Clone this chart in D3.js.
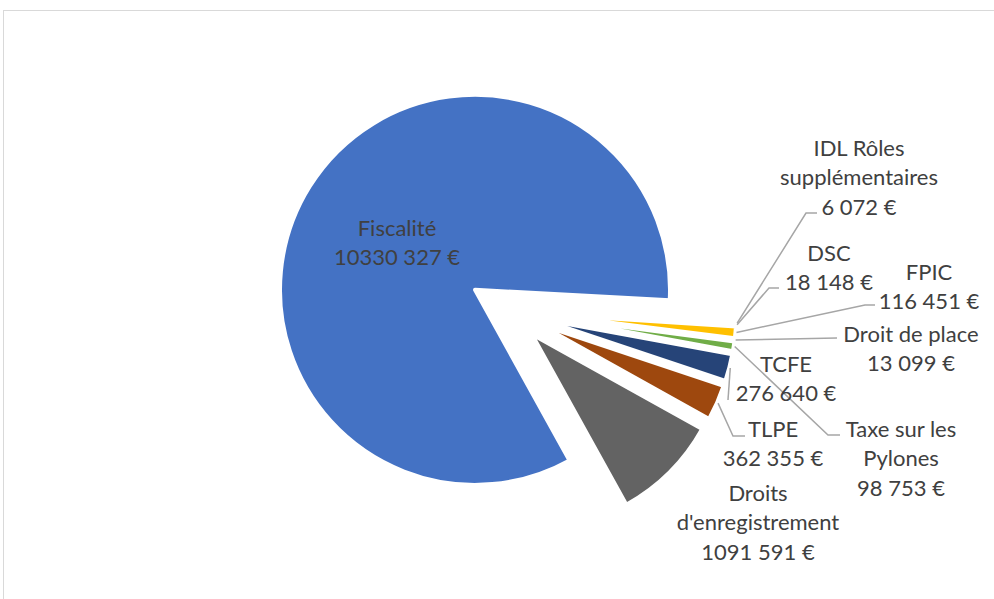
<!DOCTYPE html>
<html>
<head>
<meta charset="utf-8">
<script src="https://cdn.jsdelivr.net/npm/d3@7"></script>
<style>
  html, body { margin: 0; padding: 0; background: #fff; }
  svg { display: block; }
  .lbl { font-family: Lato, "Open Sans", sans-serif; font-size: 22px; fill: #404040; }
  .leader { fill: none; stroke: #A6A6A6; stroke-width: 1.5; }
</style>
</head>
<body>
<svg id="chart" width="994" height="599"></svg>
<script>
// --- Data ------------------------------------------------------------
const categories = [
  "Fiscalité",
  "IDL Rôles\nsupplémentaires",
  "DSC",
  "FPIC",
  "Droit de place",
  "Taxe sur les\nPylones",
  "TCFE",
  "TLPE",
  "Droits\nd'enregistrement",
];
const values = [10330327, 6072, 18148, 116451, 13099, 98753, 276640, 362355, 1091591];
const colors = ["#4472C4", "#ED7D31", "#A5A5A5", "#FFC000", "#5B9BD5", "#70AD47", "#264478", "#9E480E", "#636363"];

// --- Layout ----------------------------------------------------------
const W = 994, H = 599;
const cx = 508.5, cy = 310.8, R = 195;
const startDeg = 151;
const explode = [39.5, 33, 33, 33, 33, 33, 33, 33, 33];
// label centre (first line) and leader bend points, as placed in the original
const labelAt = [
  { x: 397, y: 228, leader: null },
  { x: 859, y: 148, leader: [[806, 213], [817, 213]] },
  { x: 829, y: 253, leader: [[769, 288], [779, 288]] },
  { x: 929, y: 272, leader: [[865, 305], [875, 305]] },
  { x: 911, y: 334, leader: [[837, 338]] },
  { x: 901, y: 429, leader: [[828, 435], [840, 435]] },
  { x: 786, y: 364, leader: [[728, 400]] },
  { x: 773, y: 429, leader: [[733, 436], [745, 436]] },
  { x: 758, y: 493, leader: null },
];
const lineGap = 29.5;

const fmt = (v) => `${Math.floor(v / 1000)} ${String(v % 1000).padStart(3, "0")} €`;

const svg = d3.select("#chart");

// chart frame
svg.append("rect")
  .attr("x", 3.5).attr("y", 10.5)
  .attr("width", W + 10).attr("height", H + 10)
  .attr("fill", "none").attr("stroke", "#D9D9D9").attr("stroke-width", 1);

const toRad = (d) => (d * Math.PI) / 180;
const pie = d3.pie().sort(null).value((d) => d)
  .startAngle(toRad(startDeg)).endAngle(toRad(startDeg) + 2 * Math.PI);
const arcs = pie(values);
const arc = d3.arc().innerRadius(0).outerRadius(R);

const dirOf = (a) => {
  const mid = (a.startAngle + a.endAngle) / 2;
  return [Math.sin(mid), -Math.cos(mid)];
};

// slices (white outline eats the thin tips, as in the original)
svg.append("g").selectAll("path").data(arcs).enter().append("path")
  .attr("d", arc)
  .attr("fill", (d, i) => colors[i])
  .attr("stroke", "#fff")
  .attr("stroke-width", 4)
  .attr("stroke-linejoin", "round")
  .attr("transform", (d, i) => {
    const [dx, dy] = dirOf(d);
    return `translate(${cx + dx * explode[i]},${cy + dy * explode[i]})`;
  });

// leader lines
const line = d3.line();
svg.append("g").selectAll("path")
  .data(arcs.filter((d, i) => labelAt[i].leader))
  .enter().append("path")
  .attr("class", "leader")
  .attr("d", (d) => {
    const i = d.index;
    const [dx, dy] = dirOf(d);
    const r0 = explode[i] + R + 1;
    return line([[cx + dx * r0, cy + dy * r0], ...labelAt[i].leader]);
  });

// data labels
const lbl = svg.append("g").selectAll("text").data(arcs).enter().append("text")
  .attr("class", "lbl")
  .attr("text-anchor", "middle");
lbl.each(function (d, i) {
  const lines = categories[i].split("\n").concat([fmt(values[i])]);
  const t = d3.select(this);
  lines.forEach((s, k) => {
    t.append("tspan")
      .attr("x", labelAt[i].x)
      .attr("y", labelAt[i].y + k * lineGap)
      .attr("dy", "0.35em")
      .text(s);
  });
});
</script>
</body>
</html>
